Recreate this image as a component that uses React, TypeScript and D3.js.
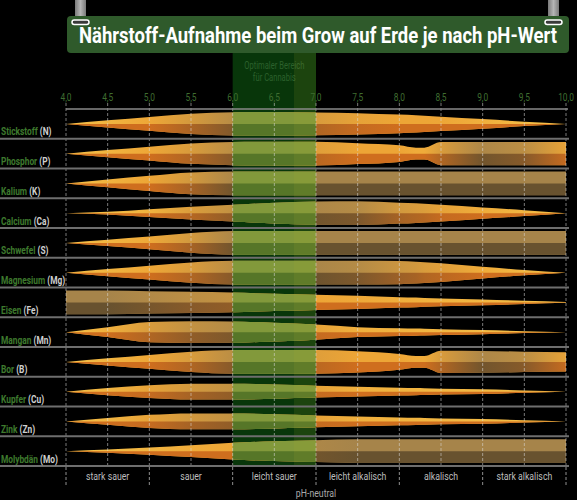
import React from "react";
import * as d3 from "d3";

// pH grid the availability values are read at
const phGrid = [4, 4.5, 5, 5.5, 6, 6.5, 7, 7.5, 8, 8.2, 8.3, 8.5, 9, 9.5, 10];
const phTicks = [4, 4.5, 5, 5.5, 6, 6.5, 7, 7.5, 8, 8.5, 9, 9.5, 10];

const nutrients = ["Stickstoff", "Phosphor", "Kalium", "Calcium", "Schwefel", "Magnesium", "Eisen", "Mangan", "Bor", "Kupfer", "Zink", "Molybdän"];
const symbols = ["N", "P", "K", "Ca", "S", "Mg", "Fe", "Mn", "B", "Cu", "Zn", "Mo"];

// relative availability (0..1) at each phGrid point
const stickstoff = [0, 0.3, 0.58, 0.86, 0.98, 1, 0.96, 0.9, 0.78, 0.72, 0.69, 0.6, 0.4, 0.18, 0];
const phosphor = [0, 0.3, 0.58, 0.86, 0.97, 1, 1, 0.88, 0.7, 0.5, 0.5, 0.97, 0.97, 0.97, 0.97];
const kalium = [0, 0.33, 0.64, 0.92, 1, 1, 1, 1, 1, 1, 1, 1, 1, 1, 1];
const calcium = [0, 0.11, 0.33, 0.53, 0.7, 0.88, 0.97, 1, 0.88, 0.82, 0.78, 0.7, 0.47, 0.25, 0];
const schwefel = [0, 0.27, 0.53, 0.83, 1, 1, 1, 1, 1, 1, 1, 1, 1, 1, 1];
const magnesium = [0, 0.3, 0.58, 0.86, 1, 1, 1, 1, 0.97, 0.92, 0.88, 0.78, 0.5, 0.22, 0];
const eisen = [1, 1, 0.94, 0.89, 0.83, 0.72, 0.64, 0.55, 0.44, 0.4, 0.37, 0.33, 0.25, 0.14, 0.04];
const mangan = [0, 0.42, 0.86, 0.92, 0.89, 0.78, 0.64, 0.42, 0.33, 0.3, 0.28, 0.25, 0.17, 0.08, 0];
const bor = [0, 0.3, 0.58, 0.86, 1, 1, 1, 0.9, 0.67, 0.5, 0.5, 0.94, 0.92, 0.86, 0.8];
const kupfer = [0, 0.3, 0.53, 0.67, 0.67, 0.6, 0.5, 0.42, 0.33, 0.3, 0.28, 0.25, 0.2, 0.1, 0];
const zink = [0, 0.28, 0.55, 0.67, 0.67, 0.6, 0.5, 0.42, 0.33, 0.3, 0.28, 0.25, 0.2, 0.1, 0];
const molybdaen = [0, 0.14, 0.3, 0.5, 0.7, 0.83, 0.92, 1, 1, 1, 1, 1, 1, 1, 1];
const availability = [stickstoff, phosphor, kalium, calcium, schwefel, magnesium, eisen, mangan, bor, kupfer, zink, molybdaen];

// how "saturated" (tan) the band looks at each phGrid point, 0 = orange
const toneA = [0, 0, 0, 0.35, 0.75, 0.6, 0.3, 0.1, 0, 0, 0, 0, 0, 0, 0];
const toneP = [0, 0, 0, 0.3, 0.7, 0.5, 0.2, 0, 0, 0, 0, 0.3, 0.9, 0.7, 0.1];
const toneFull = [0, 0, 0, 0.4, 0.9, 1, 1, 1, 1, 1, 1, 1, 1, 1, 1];
const toneCa = [0, 0, 0, 0.25, 0.6, 0.8, 0.9, 0.8, 0.4, 0.3, 0.25, 0.1, 0, 0, 0];
const toneMg = [0, 0, 0, 0.3, 0.7, 0.9, 0.95, 0.8, 0.5, 0.4, 0.3, 0.2, 0, 0, 0];
const toneFe = [1, 1, 0.85, 0.7, 0.6, 0.3, 0, 0, 0, 0, 0, 0, 0, 0, 0];
const toneMn = [0, 0, 0.3, 0.6, 0.8, 0.5, 0.1, 0, 0, 0, 0, 0, 0, 0, 0];
const toneCu = [0, 0, 0.1, 0.4, 0.6, 0.4, 0.1, 0, 0, 0, 0, 0, 0, 0, 0];
const toneMo = [0, 0, 0, 0, 0, 0.4, 0.9, 1, 1, 1, 1, 1, 1, 1, 1];
const tones = [toneA, toneP, toneFull, toneCa, toneFull, toneMg, toneFe, toneMn, toneP, toneCu, toneCu, toneMo];

const zoneLabels = ["stark sauer", "sauer", "leicht sauer", "leicht alkalisch", "alkalisch", "stark alkalisch"];
const zoneBounds = [4, 5, 6, 7, 8, 9, 10];

const W = 577;
const H = 500;
const FONT = "Roboto, 'DejaVu Sans Condensed', sans-serif";
const SQ = 0.76; // horizontal squeeze for the condensed look

const fmt = (v: number) => v.toFixed(1).replace(".", ",");

export default function App() {
  const x = d3.scaleLinear().domain([4, 10]).range([66, 566]);
  const y = d3.scaleBand<string>().domain(nutrients).range([109, 466]);
  const bw = y.bandwidth();
  const half = bw * 0.4;

  const topMix = d3.interpolateRgb("#eda536", "#a6844a");
  const botMix = d3.interpolateRgb("#cf6e1e", "#68522f");
  const tipMix = d3.interpolateRgb("#f5c24a", "#eda536");

  const full = (row: number) => {
    const cy = y(nutrients[row])! + bw / 2;
    return d3
      .area<number>()
      .x((_, i) => x(phGrid[i]))
      .y0((d) => cy + d * half)
      .y1((d) => cy - d * half)
      .curve(d3.curveMonotoneX)(availability[row]) as string;
  };
  const lower = (row: number) => {
    const cy = y(nutrients[row])! + bw / 2;
    return d3
      .area<number>()
      .x((_, i) => x(phGrid[i]))
      .y0((d) => cy + d * half)
      .y1(cy)
      .curve(d3.curveMonotoneX)(availability[row]) as string;
  };

  // thin, orange parts of a band read a little more yellow
  const topColor = (r: number, i: number) => {
    const t = tones[r][i];
    const w = availability[r][i];
    const base = t > 0 ? topMix(t) : tipMix(Math.min(1, w * 1.6));
    return base;
  };

  const zoneX0 = x(6);
  const zoneX1 = x(7);
  const title = "Nährstoff-Aufnahme beim Grow auf Erde je nach pH-Wert";

  return (
    <svg width={W} height={H} style={{ position: "absolute", left: 0, top: 0, background: "#000" }} fontFamily={FONT}>
      <defs>
        {nutrients.map((n, r) => (
          <React.Fragment key={n}>
            <linearGradient id={`top${r}`} gradientUnits="userSpaceOnUse" x1={x(4)} x2={x(10)} y1={0} y2={0}>
              {phGrid.map((p, i) => (
                <stop key={i} offset={(p - 4) / 6} stopColor={topColor(r, i)} />
              ))}
            </linearGradient>
            <linearGradient id={`bot${r}`} gradientUnits="userSpaceOnUse" x1={x(4)} x2={x(10)} y1={0} y2={0}>
              {phGrid.map((p, i) => (
                <stop key={i} offset={(p - 4) / 6} stopColor={botMix(tones[r][i])} />
              ))}
            </linearGradient>
          </React.Fragment>
        ))}
        <linearGradient id="hanger" x1="0" x2="1" y1="0" y2="0">
          <stop offset="0" stopColor="#7a7a7a" />
          <stop offset="0.5" stopColor="#b5b5b5" />
          <stop offset="1" stopColor="#7a7a7a" />
        </linearGradient>
        <clipPath id="zoneClip">
          <rect x={zoneX0} y={53} width={zoneX1 - zoneX0} height={466 - 53} />
        </clipPath>
      </defs>

      {/* optimal range backdrop */}
      <rect x={zoneX0} y={53} width={zoneX1 - zoneX0} height={466 - 53} fill="#08360a" />
      <text transform={`translate(${x(6.5)},69) scale(${SQ},1)`} textAnchor="middle" fontSize={10} fill="#2c612c">
        Optimaler Bereich
      </text>
      <text transform={`translate(${x(6.5)},81) scale(${SQ},1)`} textAnchor="middle" fontSize={10} fill="#2c612c">
        für Cannabis
      </text>

      {/* bands */}
      {nutrients.map((n, r) => (
        <g key={n}>
          <path d={full(r)} fill={`url(#top${r})`} />
          <path d={lower(r)} fill={`url(#bot${r})`} />
        </g>
      ))}
      <g clipPath="url(#zoneClip)">
        {nutrients.map((n, r) => (
          <g key={n}>
            <path d={full(r)} fill="#82993b" />
            <path d={lower(r)} fill="#567628" />
          </g>
        ))}
        <rect x={zoneX1 - 22} y={53} width={22} height={413} fill="#b0b030" opacity={0.12} />
      </g>

      {/* dashed grid */}
      {phTicks.map((p) => (
        <line key={p} x1={x(p)} x2={x(p)} y1={103} y2={466} stroke="#ddd" strokeOpacity={0.55} strokeDasharray="3,2" />
      ))}
      {zoneBounds.map((p) => (
        <line key={p} x1={x(p)} x2={x(p)} y1={467} y2={487} stroke="#ccc" strokeOpacity={0.7} strokeDasharray="3,2" />
      ))}

      {/* row rules */}
      <line x1={x(4)} x2={x(10) + 2} y1={109} y2={109} stroke="#8a8a8a" strokeWidth={1.5} />
      {nutrients.map((n) => (
        <line key={n} x1={0} x2={x(10) + 3} y1={y(n)! + bw} y2={y(n)! + bw} stroke="#6e6e6e" strokeWidth={2} />
      ))}

      {/* top axis labels */}
      {phTicks.map((p) => (
        <text key={p} transform={`translate(${x(p)},101) scale(${SQ},1)`} textAnchor="middle" fontSize={11} fill="#3f6d30">
          {fmt(p)}
        </text>
      ))}

      {/* row labels */}
      {nutrients.map((n, i) => (
        <text key={n} transform={`translate(1,${y(n)! + bw - 3.5}) scale(${SQ},1)`} fontSize={11} fontWeight="bold" fill="#3e7a2e">
          {n} <tspan fill="#cfcfcf">({symbols[i]})</tspan>
        </text>
      ))}

      {/* bottom zone labels */}
      {zoneLabels.map((l, i) => (
        <text key={l} transform={`translate(${x((zoneBounds[i] + zoneBounds[i + 1]) / 2)},480) scale(${SQ},1)`} textAnchor="middle" fontSize={11.5} fill="#bdbdbd">
          {l}
        </text>
      ))}
      <text transform={`translate(${x(7)},497) scale(${SQ},1)`} textAnchor="middle" fontSize={11.5} fill="#a8a8a8">
        pH-neutral
      </text>

      {/* title sign */}
      {[75, 548].map((hx) => (
        <rect key={hx} x={hx} y={0} width={11} height={22} fill="url(#hanger)" />
      ))}
      <rect x={67} y={16} width={502} height={37} rx={4} fill="#2f5a2b" />
      {[75, 548].map((hx) => (
        <rect key={hx} x={hx - 3} y={20} width={17} height={4.5} rx={2.2} fill="#3a3a3a" stroke="#fff" strokeWidth={1.5} />
      ))}
      <text
        transform={`translate(318,43) scale(${SQ},1)`}
        textAnchor="middle"
        fontSize={22}
        fontWeight="bold"
        fill="#fff"
        textLength={478 / SQ}
        lengthAdjust="spacingAndGlyphs"
      >
        {title}
      </text>
    </svg>
  );
}
